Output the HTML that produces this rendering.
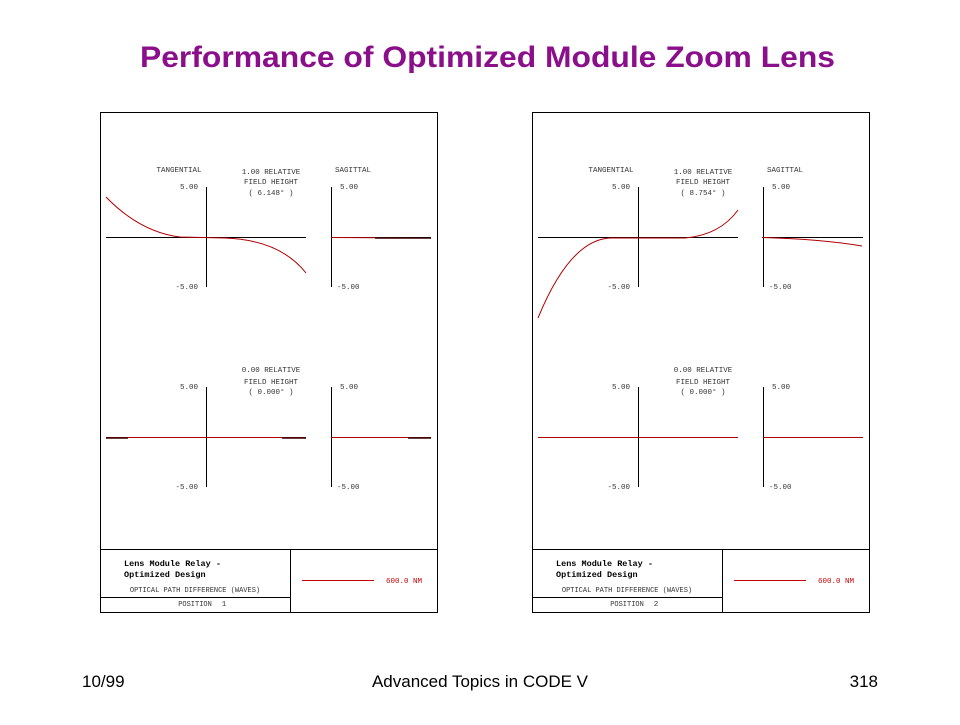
<!DOCTYPE html>
<html><head><style>
body{margin:0;background:#fff;width:960px;height:720px;overflow:hidden}
</style></head><body>
<svg width="960" height="720" xmlns="http://www.w3.org/2000/svg">
<text x="140" y="67" textLength="695" lengthAdjust="spacingAndGlyphs" font-family="Liberation Sans, sans-serif" font-weight="bold" font-size="30" fill="#8b0f8b">Performance of Optimized Module Zoom Lens</text>
<g font-family="Liberation Sans, sans-serif" font-size="17" fill="#000">
<text x="82" y="687">10/99</text>
<text x="480" y="687" text-anchor="middle">Advanced Topics in CODE V</text>
<text x="878" y="687" text-anchor="end">318</text>
</g>
<defs>
<g id="panel" font-family="Liberation Mono, monospace" font-size="7.5" fill="#333">
<rect x="100.5" y="112.5" width="337" height="500" fill="none" stroke="#000"/>
<line x1="100" y1="549.5" x2="437" y2="549.5" stroke="#000"/>
<line x1="290.5" y1="549" x2="290.5" y2="612" stroke="#000"/>
<line x1="100" y1="597.5" x2="290" y2="597.5" stroke="#000"/>
<text x="179" y="172" text-anchor="middle">TANGENTIAL</text>
<text x="353" y="172" text-anchor="middle">SAGITTAL</text>
<g stroke="#000" stroke-width="1">
<line x1="106" y1="237.5" x2="306" y2="237.5"/><line x1="206.5" y1="187" x2="206.5" y2="287"/>
<line x1="331" y1="237.5" x2="431" y2="237.5"/><line x1="331.5" y1="187" x2="331.5" y2="287"/>
<line x1="106" y1="437.5" x2="306" y2="437.5"/><line x1="206.5" y1="387" x2="206.5" y2="487"/>
<line x1="331" y1="437.5" x2="431" y2="437.5"/><line x1="331.5" y1="387" x2="331.5" y2="487"/>
</g>
<text x="198" y="189" text-anchor="end">5.00</text><text x="340" y="189">5.00</text>
<text x="198" y="289" text-anchor="end">-5.00</text><text x="337" y="289">-5.00</text>
<text x="198" y="389" text-anchor="end">5.00</text><text x="340" y="389">5.00</text>
<text x="198" y="489" text-anchor="end">-5.00</text><text x="337" y="489">-5.00</text>
<text x="271" y="372" text-anchor="middle">0.00 RELATIVE</text>
<text x="271" y="384" text-anchor="middle">FIELD HEIGHT</text>
<text x="271" y="394" text-anchor="middle">( 0.000° )</text>
<text x="124" y="566" font-size="8.5" font-weight="bold" fill="#000">Lens Module Relay -</text>
<text x="124" y="577" font-size="8.5" font-weight="bold" fill="#000">Optimized Design</text>
<text x="195" y="592" text-anchor="middle" font-size="7">OPTICAL PATH DIFFERENCE (WAVES)</text>
<text x="195" y="606" text-anchor="middle" font-size="7">POSITION</text>
<line x1="302" y1="580.5" x2="374" y2="580.5" stroke="#c00000"/>
<text x="386" y="583" fill="#c00000">600.0 NM</text>
<g stroke="#b00000" fill="none">
<line x1="106" y1="437.5" x2="306" y2="437.5"/>
<line x1="331" y1="437.5" x2="431" y2="437.5"/>
</g>
</g>
</defs>
<use href="#panel"/>
<use href="#panel" x="432"/>
<g font-family="Liberation Mono, monospace" font-size="7.5" fill="#333" text-anchor="middle">
<text x="271" y="174">1.00 RELATIVE</text><text x="271" y="184">FIELD HEIGHT</text><text x="271" y="195">( 6.148° )</text>
<text x="703" y="174">1.00 RELATIVE</text><text x="703" y="184">FIELD HEIGHT</text><text x="703" y="195">( 8.754° )</text>
<text x="224" y="606">1</text><text x="656" y="606">2</text>
</g>
<g stroke="#b00000" fill="none" stroke-width="1">
<path d="M106,197 Q140,232 180,237 L225,238 Q280,240 306,273"/>
<line x1="331" y1="237.5" x2="431" y2="238"/>
<path d="M538,318 Q570,240 610,238 L685,238 Q720,235 738,210"/>
<path d="M762,237.5 Q820,239 862,246"/>
</g>
<g stroke="#300" stroke-width="1.5">
<line x1="106" y1="438" x2="128" y2="438"/><line x1="282" y1="438" x2="306" y2="438"/>
<line x1="408" y1="438" x2="431" y2="438"/><line x1="375" y1="238" x2="431" y2="238"/>
</g>
</svg>
</body></html>
